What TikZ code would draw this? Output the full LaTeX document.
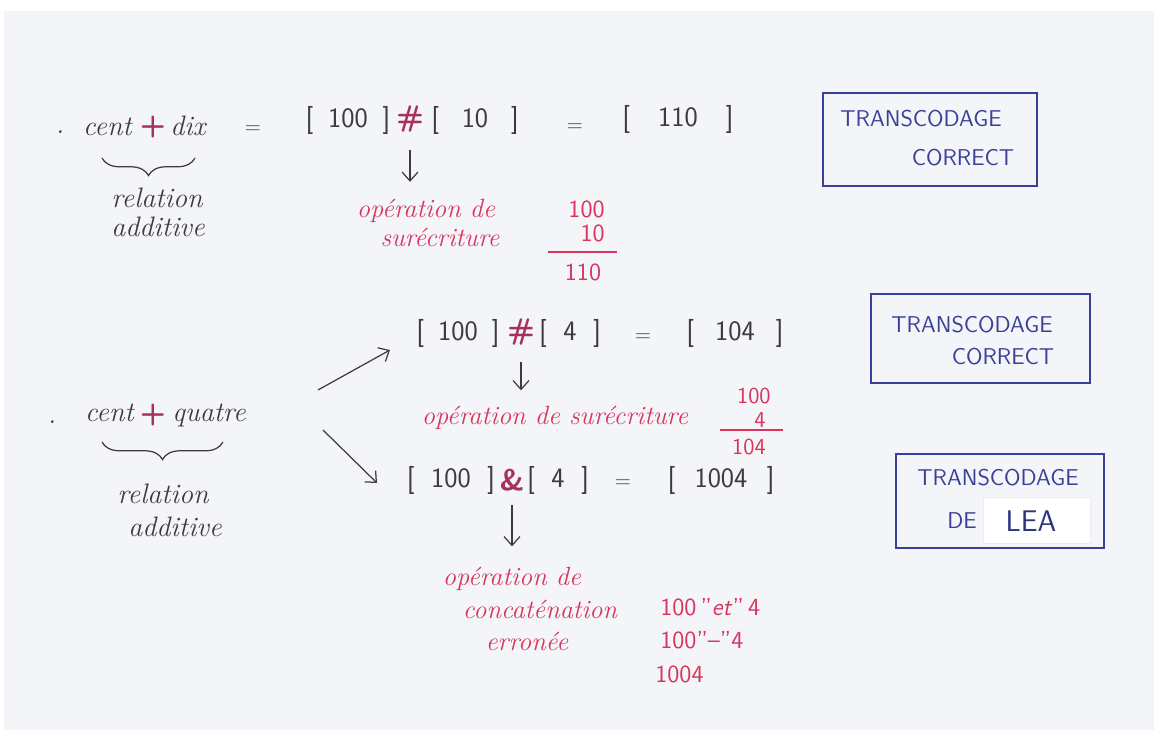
\documentclass[tikz,border=0pt]{standalone}
\usepackage{fontspec}
\usetikzlibrary{arrows.meta,decorations.pathreplacing}
\definecolor{ink}{HTML}{3C3C3C}
\definecolor{redink}{HTML}{D8345C}
\definecolor{plusink}{HTML}{A8305E}
\definecolor{blueink}{HTML}{3A3F98}
\definecolor{leaink}{HTML}{2E3580}
\definecolor{paper}{HTML}{F3F5F8}
\newcommand{\brk}[2][8pt]{[\hspace{#1}#2\hspace{#1}]}

\begin{document}
\begin{tikzpicture}[x=0.02cm,y=-0.02cm,
  hand/.style={anchor=base,inner sep=0pt,text=ink,font=\fontsize{16}{18}\selectfont\itshape},
  redhand/.style={anchor=base,inner sep=0pt,text=redink,font=\fontsize{15}{18}\selectfont\itshape},
  code/.style={inner sep=0pt,text=ink,font=\sffamily\fontsize{16}{18}\selectfont},
  eqsign/.style={inner sep=0pt,text=ink,font=\sffamily\fontsize{12}{14}\selectfont},
  sign/.style={inner sep=0pt,text=plusink,font=\sffamily\bfseries\fontsize{17}{18}\selectfont},
  digits/.style={inner sep=0pt,text=redink,font=\sffamily\fontsize{14}{16}\selectfont},
  caps/.style={inner sep=0pt,text=blueink,font=\sffamily\fontsize{13}{15}\selectfont},
  stamp/.style={draw=blueink,line width=1pt},
  arr/.style={draw=ink,line width=0.7pt,-{Straight Barb[length=5pt,width=9pt]}},
  ubrace/.style={draw=ink,line width=0.7pt,decorate,decoration={brace,amplitude=10pt,mirror}}]
  \useasboundingbox (0,0) rectangle (1154,733);
  \fill[white] (0,0) rectangle (1154,733);
  \fill[paper] (4,11) rectangle (1154,730);

  \node[hand] (dot1) at (60,134) {.};
  \node[hand,anchor=base east] (cent1) at (132,136) {cent};
  \node[sign] (plus1) at (153,127) {+};
  \node[hand,anchor=base west] (dix1) at (170,136) {dix};
  \draw[ubrace] (102,158) -- (195,158);
  \node[hand] (rel1) at (157,208) {relation};
  \node[hand] (add1) at (158,237) {additive};
  \node[eqsign] (eq1) at (253,130) {=};
  \node[code] (b100a) at (348,120) {\brk[8.5pt]{100}};
  \node[sign] (hash1) at (410,119) {\#};
  \node[code] (b10) at (475,120) {\brk[13pt]{10}};
  \node[eqsign] (eq2) at (575,128) {=};
  \node[code] (b110) at (678,119) {\brk[16pt]{110}};
  \node[redhand] (op1a) at (426,218) {opération de};
  \node[redhand] (op1b) at (440,247) {surécriture};
  \draw[arr,shorten <=0.34cm,shorten >=0.35cm] (hash1.south) -- (hash1.south |- op1a.north);
  \node[digits,anchor=east] (c1a) at (605,209) {100};
  \node[digits,anchor=east] (c1b) at (605,233) {10};
  \draw[redink,line width=0.8pt] (548,252) -- (617,252);
  \node[digits] (c1c) at (583,272) {110};
  \draw[stamp] (823,93) rectangle (1037,186);
  \node[caps] (tr1) at (921,119) {TRANSCODAGE};
  \node[caps] (co1) at (963,158) {CORRECT};

  \node[hand] (dot2) at (52,424) {.};
  \node[hand,anchor=base east] (cent2) at (134,422) {cent};
  \node[sign] (plus2) at (153,415) {+};
  \node[hand,anchor=base west] (quatre) at (172,422) {quatre};
  \draw[ubrace] (102,442) -- (223,442);
  \node[hand] (rel2) at (163,503) {relation};
  \node[hand] (add2) at (175,537) {additive};
  \coordinate (up1) at (318,390);
  \coordinate (up2) at (390,350);
  \coordinate (dn1) at (323,430);
  \coordinate (dn2) at (377,483);
  \draw[arr] (up1) -- (up2);
  \draw[arr] (dn1) -- (dn2);

  \node[code] (b100b) at (458,333) {\brk[8pt]{100}};
  \node[sign] (hash2) at (521,332) {\#};
  \node[code] (b4a) at (570,333) {\brk[9.5pt]{4}};
  \node[eqsign] (eq3) at (643,338) {=};
  \node[code] (b104) at (735,333) {\brk[12pt]{104}};
  \node[redhand] (op2) at (555,425) {opération de surécriture};
  \draw[arr,shorten <=0.32cm,shorten >=0.32cm] (hash2.south) -- (hash2.south |- op2.north);
  \node[digits,anchor=east,font=\sffamily\fontsize{13}{15}\selectfont] (c2a) at (771,396) {100};
  \node[digits,anchor=east,font=\sffamily\fontsize{13}{15}\selectfont] (c2b) at (766,420) {4};
  \draw[redink,line width=0.8pt] (720,430) -- (783,430);
  \node[digits,font=\sffamily\fontsize{13}{15}\selectfont] (c2c) at (749,447) {104};
  \draw[stamp] (871,294) rectangle (1090,383);
  \node[caps] (tr2) at (972,325) {TRANSCODAGE};
  \node[caps] (co2) at (1003,357) {CORRECT};

  \node[code] (b100c) at (451,480) {\brk[9.5pt]{100}};
  \node[sign] (amp) at (512,480) {\&};
  \node[code] (b4b) at (558,480) {\brk[9.5pt]{4}};
  \node[eqsign] (eq4) at (623,484) {=};
  \node[code] (b1004) at (721,480) {\brk[11pt]{1004}};
  \node[redhand] (op3a) at (512,585) {opération de};
  \node[redhand] (op3b) at (540,618) {concaténation};
  \node[redhand] (op3c) at (527,650) {erronée};
  \draw[arr,shorten <=0.28cm,shorten >=0.4cm] (amp.south) -- (amp.south |- op3a.north);
  \node[digits,anchor=base west] (r1) at (660,615) {100\,''\textit{et}''\,4};
  \node[digits,anchor=base west] (r2) at (660,648) {100''--''4};
  \node[digits,anchor=base west] (r3) at (655,682) {1004};
  \draw[stamp] (896,454) rectangle (1104,548);
  \node[caps] (tr3) at (998,478) {TRANSCODAGE};
  \node[caps] (de) at (962,521) {DE};
  \fill[white,draw=black!8] (983,497) rectangle (1090,543);
  \node[caps,text=leaink,font=\sffamily\fontsize{17}{19}\selectfont] (lea) at (1031,521) {LEA};
\end{tikzpicture}
\end{document}
